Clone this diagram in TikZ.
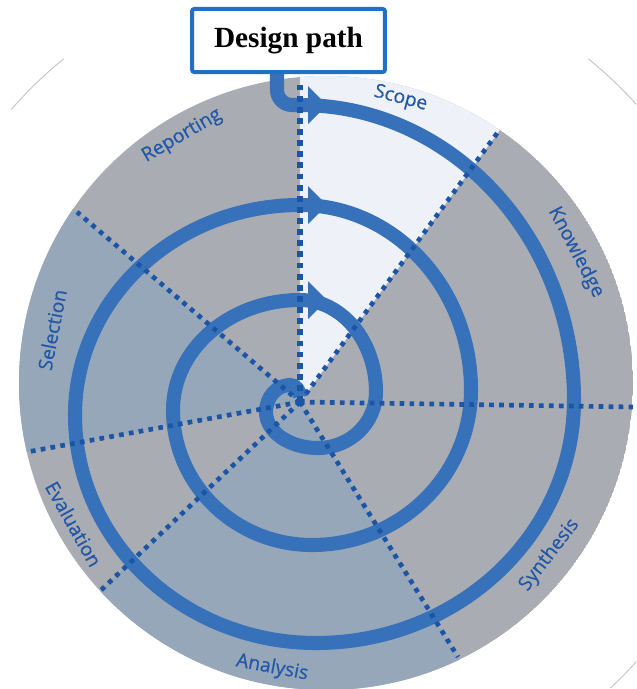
\documentclass[tikz,border=0pt]{standalone}
\usepackage{fontspec}
\setmainfont{Liberation Serif}
\newfontfamily\labfont{Open Sans}[FakeBold=0.5]
\usepackage{xcolor}
\definecolor{spiralblue}{HTML}{3671B9}
\definecolor{dotblue}{HTML}{1B55A5}
\definecolor{labblue}{HTML}{2157A6}
\definecolor{boxblue}{HTML}{2470C0}
\definecolor{discgray}{HTML}{A9ADB3}
\definecolor{discblue}{HTML}{97A7BA}
\definecolor{scopefill}{HTML}{EEF1F8}
\definecolor{rimgray}{HTML}{C4C4C4}

\begin{document}
\begin{tikzpicture}[x=0.3mm, y=0.3mm,
  spiral/.style={draw=spiralblue, line width=12pt},
  spoke/.style={draw=dotblue, line width=4pt, dash pattern=on 4pt off 4.5pt},
  lab/.style={text=labblue, font=\labfont\fontsize{16.5}{18}\selectfont, inner sep=0pt}]
\useasboundingbox (0,0) rectangle (636,-689);
\clip (0,0) rectangle (636,-689);
\coordinate (d) at (326,-383);
\coordinate (c) at (300,-402);
\coordinate (stem) at (277,-70);
% outer rim, only its corner parts show
\draw [rimgray, line width=0.8pt] (d) ++(139:417) arc[start angle=139, end angle=129, radius=417];
\draw [rimgray, line width=0.8pt] (d) ++(51:417) arc[start angle=51, end angle=38, radius=417];
\draw [rimgray, line width=0.8pt] (d) ++(-47:417) arc[start angle=-47, end angle=-38, radius=417];
% disc and sectors
\begin{scope}
\clip (d) circle (307);
\fill [discgray] (d) circle (307);
\fill [scopefill] (c) -- ++(53.7:600) arc[start angle=53.7, end angle=90, radius=600] -- cycle;
\fill [discblue] (c) -- ++(-136.6:600) arc[start angle=-136.6, end angle=-58.2, radius=600] -- cycle;
\fill [discblue] (c) -- ++(139.6:600) arc[start angle=139.6, end angle=190.4, radius=600] -- cycle;
\end{scope}
% spiral
\draw [spiral] (stem) -- (277,-90) arc[start angle=180, end angle=270, radius=15] -- (300,-105)
  arc[start angle=90, end angle=0, x radius=274, y radius=295]
  arc[start angle=0, end angle=-90, x radius=258, y radius=243]
  arc[start angle=-90, end angle=-180, x radius=241, y radius=228]
  arc[start angle=180, end angle=90, x radius=225, y radius=210]
  arc[start angle=90, end angle=0, x radius=171, y radius=185]
  arc[start angle=0, end angle=-90, x radius=159, y radius=155]
  arc[start angle=-90, end angle=-180, x radius=139, y radius=135]
  arc[start angle=180, end angle=90, x radius=127, y radius=110]
  arc[start angle=90, end angle=0, x radius=76, y radius=92]
  arc[start angle=0, end angle=-90, x radius=58, y radius=56]
  arc[start angle=-90, end angle=-180, x radius=52, y radius=36]
  arc[start angle=180, end angle=90, x radius=24, y radius=27]
  arc[start angle=90, end angle=0, x radius=10, y radius=12];
\fill [spiralblue] (308,-86) -- (327,-105) -- (308,-124) -- cycle;
\fill [spiralblue] (308,-186) -- (327,-205) -- (308,-224) -- cycle;
\fill [spiralblue] (308,-281) -- (327,-300) -- (308,-319) -- cycle;
% spokes
\draw [spoke, line width=5pt, dash pattern=on 5pt off 4.5pt] (c) -- (300,-80);
\draw [spoke] (c) -- (498,-132);
\draw [spoke] (c) -- (633,-407);
\draw [spoke] (c) -- (458,-657);
\draw [spoke] (c) -- (98,-593);
\draw [spoke] (c) -- (27,-452);
\draw [spoke] (c) -- (77,-212);
% labels
\path (d) ++(75.3:294) node [lab, rotate=-14.7] (scope) {Scope};
\path (d) ++(120.2:286) node [lab, rotate=30.2] (reporting) {Reporting};
\path (d) ++(27.6:282) node [lab, rotate=-62.4] (knowledge) {Knowledge};
\path (d) ++(-37.6:282) node [lab, rotate=52.4] (synthesis) {Synthesis};
\path (d) ++(-100.7:290) node [lab, rotate=-10.7] (analysis) {Analysis};
\path (d) ++(209.2:289) node [lab, rotate=-60.8] (evaluation) {Evaluation};
\path (d) ++(169:279) node [lab, rotate=79] (selection) {Selection};
% title box
\node [draw=boxblue, line width=3.4pt, fill=white, rounded corners=2pt,
  minimum width=164.7pt, minimum height=53.8pt, inner sep=0pt,
  font=\bfseries\fontsize{25}{27}\selectfont] (title) at (288.5,-40.5) {Design path};
\end{tikzpicture}
\end{document}
